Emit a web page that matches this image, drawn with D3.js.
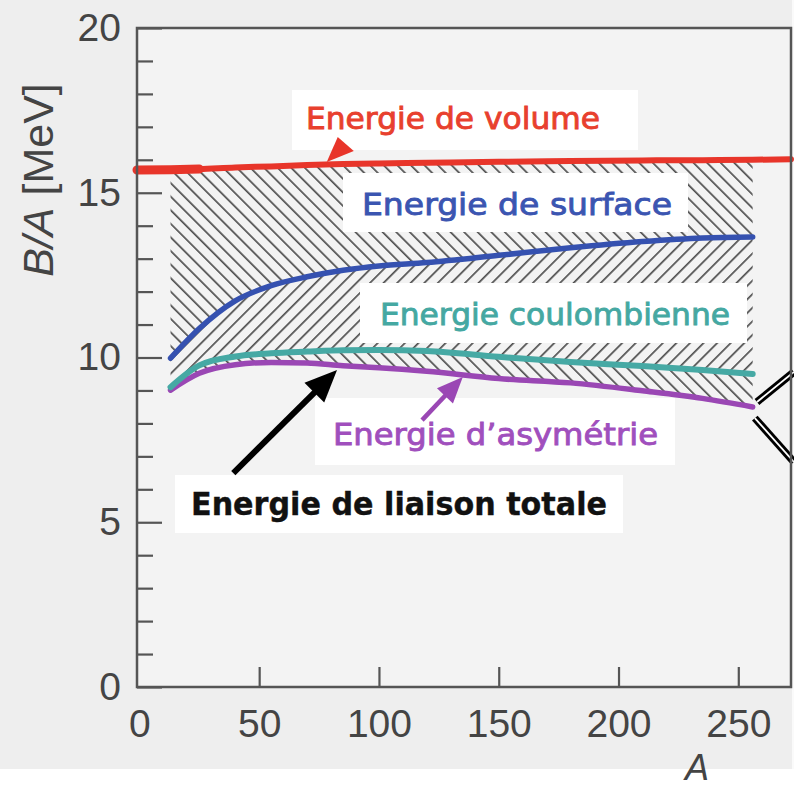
<!DOCTYPE html>
<html>
<head>
<meta charset="utf-8">
<script src="https://cdn.jsdelivr.net/npm/d3@7"></script>
<style>
    html, body { margin: 0; padding: 0; background: #efefef; }
    #chart svg { display: block; }
</style>
</head>
<body>
<div id="chart"></div>
<script>
'use strict'

////////////////////////////////////
/////////////// data ///////////////
////////////////////////////////////

const massNumbers = [13, 25, 40, 55, 70, 85, 100, 120, 150, 180, 210, 235, 256]

// B/A in MeV, cumulative after each term
const volumeEnergy = [15.7, 15.72, 15.77, 15.8, 15.84, 15.87, 15.89, 15.91, 15.94, 15.96, 15.98, 15.99, 16.0]
const surfaceEnergy = [9.98, 10.88, 11.72, 12.18, 12.45, 12.65, 12.78, 12.88, 13.1, 13.33, 13.52, 13.63, 13.66]
const coulombEnergy = [9.1, 9.76, 10.03, 10.13, 10.18, 10.22, 10.23, 10.2, 10.02, 9.86, 9.74, 9.62, 9.5]
const asymmetryEnergy = [9.01, 9.52, 9.78, 9.85, 9.83, 9.75, 9.69, 9.58, 9.36, 9.23, 8.99, 8.76, 8.5]

// the volume line runs across the whole frame
const volumeEndA = [-1, 272]
const volumeEndB = [15.69, 16.02]

// ticks
const xTicks = [0, 50, 100, 150, 200, 250]
const yTicks = [0, 5, 10, 15, 20]

////////////////////////////////////
//////////// svg setup /////////////
////////////////////////////////////

const svgWidth = 794
const svgHeight = 787
const margin = { left: 137, right: 3, top: 28, bottom: 100 }

const svg = d3.select('#chart')
    .append('svg')
    .attr('width', svgWidth)
    .attr('height', svgHeight)

const x = d3.scaleLinear().domain([-1, 272]).range([margin.left, svgWidth - margin.right])
const y = d3.scaleLinear().domain([0, 20]).range([svgHeight - margin.bottom, margin.top])

const axisFont = '"Liberation Sans", Arial, sans-serif'
const labelFont = '"DejaVu Sans", Verdana, sans-serif'

// page background, white scan edges
svg.append('rect').attr('width', svgWidth).attr('height', svgHeight).attr('fill', '#eeeeee')
svg.append('rect').attr('x', 0).attr('y', 769).attr('width', svgWidth).attr('height', 18).attr('fill', '#ffffff')
svg.append('rect').attr('x', 792).attr('y', 0).attr('width', 2).attr('height', 769).attr('fill', '#fafafa')

// plot area
svg.append('rect')
    .attr('x', x.range()[0]).attr('y', y.range()[1])
    .attr('width', x.range()[1] - x.range()[0])
    .attr('height', y.range()[0] - y.range()[1])
    .attr('fill', '#f3f3f3')

////////////////////////////////////
///////////// hatching /////////////
////////////////////////////////////

const defs = svg.append('defs')

function hatch(id, angle) {
    const p = defs.append('pattern')
        .attr('id', id)
        .attr('patternUnits', 'userSpaceOnUse')
        .attr('width', 9.6)
        .attr('height', 9.6)
        .attr('patternTransform', `rotate(${angle})`)
    p.append('rect').attr('width', 1.7).attr('height', 9.6).attr('fill', '#505050')
}
hatch('hatchBack', -45)  // "\\\"
hatch('hatchFwd', 45)    // "///"

const rows = massNumbers.map((a, i) => ({
    a: a,
    vol: volumeEnergy[i],
    surf: surfaceEnergy[i],
    coul: coulombEnergy[i],
    asym: asymmetryEnergy[i]
}))

const band = (top, bottom) => d3.area()
    .x(d => x(d.a))
    .y0(d => y(d[bottom]))
    .y1(d => y(d[top]))
    .curve(d3.curveMonotoneX)

const bands = [
    { top: 'vol', bottom: 'surf', fill: 'url(#hatchBack)' },
    { top: 'surf', bottom: 'coul', fill: 'url(#hatchFwd)' },
    { top: 'coul', bottom: 'asym', fill: 'url(#hatchBack)' }
]

svg.append('g')
    .selectAll('path')
    .data(bands)
    .join('path')
    .attr('d', b => band(b.top, b.bottom)(rows))
    .attr('fill', b => b.fill)

////////////////////////////////////
/////////// label boxes ////////////
////////////////////////////////////

const labels = [
    { text: 'Energie de volume', color: '#e8402e', box: [292, 90, 346, 60], tx: 306, ty: 129, tw: 294, weight: 'normal' },
    { text: 'Energie de surface', color: '#3b55b1', box: [343, 173, 345, 59], tx: 362, ty: 215, tw: 310, weight: 'normal' },
    { text: 'Energie coulombienne', color: '#45a8a2', box: [360, 283, 387, 60], tx: 380, ty: 325, tw: 350, weight: 'normal' },
    { text: 'Energie d\u2019asymétrie', color: '#a04fbd', box: [315, 398, 360, 67], tx: 333, ty: 445, tw: 325, weight: 'normal' },
    { text: 'Energie de liaison totale', color: '#111111', box: [175, 475, 448, 58], tx: 191, ty: 515, tw: 416, weight: 'bold' }
]

svg.append('g')
    .selectAll('rect')
    .data(labels)
    .join('rect')
    .attr('x', d => d.box[0])
    .attr('y', d => d.box[1])
    .attr('width', d => d.box[2])
    .attr('height', d => d.box[3])
    .attr('fill', '#ffffff')

////////////////////////////////////
////////////// curves //////////////
////////////////////////////////////

const line = key => d3.line()
    .x(d => x(d.a))
    .y(d => y(d[key]))
    .curve(d3.curveMonotoneX)

const volumeRows = [{ a: volumeEndA[0], vol: volumeEndB[0] }]
    .concat(rows)
    .concat([{ a: volumeEndA[1], vol: volumeEndB[1] }])

const curves = [
    { key: 'asym', color: '#9a47b4', width: 5.5, data: rows },
    { key: 'coul', color: '#46a9a4', width: 6, data: rows },
    { key: 'surf', color: '#3551b0', width: 5.5, data: rows },
    { key: 'vol', color: '#e8352a', width: 6, data: volumeRows },
    // the scan shows a heavier stroke on the first part of the volume line
    { key: 'vol', color: '#e8352a', width: 9, data: volumeRows.filter(d => d.a <= 25) }
]

svg.append('g')
    .selectAll('path')
    .data(curves)
    .join('path')
    .attr('d', c => line(c.key)(c.data))
    .attr('fill', 'none')
    .attr('stroke', c => c.color)
    .attr('stroke-width', c => c.width)
    .attr('stroke-linecap', 'round')

////////////////////////////////////
///////////// arrows ///////////////
////////////////////////////////////

// tail and tip in data units (A, B/A)
const arrows = [
    { from: [39.2, 6.49], to: [82.5, 9.62], color: '#000000', width: 6, head: 32, half: 14 },
    { from: [118, 8.1], to: [135, 9.41], color: '#9a47b4', width: 4.5, head: 26, half: 11 }
]

const arrowG = svg.append('g')
arrows.forEach(ar => {
    const x0 = x(ar.from[0]), y0 = y(ar.from[1])
    const x1 = x(ar.to[0]), y1 = y(ar.to[1])
    const len = Math.hypot(x1 - x0, y1 - y0)
    const ux = (x1 - x0) / len, uy = (y1 - y0) / len
    const bx = x1 - ux * ar.head, by = y1 - uy * ar.head
    arrowG.append('line')
        .attr('x1', x0).attr('y1', y0)
        .attr('x2', bx + ux * 4).attr('y2', by + uy * 4)
        .attr('stroke', ar.color)
        .attr('stroke-width', ar.width)
    arrowG.append('polygon')
        .attr('points', [
            [x1, y1],
            [bx - uy * ar.half, by + ux * ar.half],
            [bx + uy * ar.half, by - ux * ar.half]
        ].map(p => p.join(',')).join(' '))
        .attr('fill', ar.color)
})

// small red arrowhead sitting on the volume line
const redHead = [[78.2, 15.93], [82.8, 16.69], [89.5, 16.27]]
arrowG.append('polygon')
    .attr('points', redHead.map(p => [x(p[0]), y(p[1])].join(',')).join(' '))
    .attr('fill', '#e8352a')

// double-stroked bracket on the right edge
const bracket = [
    [[273.2, 9.56], [257.8, 8.65]],
    [[256.9, 8.16], [273.2, 6.83]]
]
const bracketLine = d3.line().x(p => x(p[0])).y(p => y(p[1]))
arrowG.selectAll('.bracketOuter')
    .data(bracket)
    .join('path')
    .attr('class', 'bracketOuter')
    .attr('d', bracketLine)
    .attr('stroke', '#000')
    .attr('stroke-width', 7.5)
arrowG.selectAll('.bracketInner')
    .data(bracket)
    .join('path')
    .attr('class', 'bracketInner')
    .attr('d', bracketLine)
    .attr('stroke', '#fff')
    .attr('stroke-width', 1.8)

////////////////////////////////////
////////////// labels //////////////
////////////////////////////////////

svg.append('g')
    .selectAll('text')
    .data(labels)
    .join('text')
    .attr('x', d => d.tx)
    .attr('y', d => d.ty)
    .attr('textLength', d => d.tw)
    .attr('lengthAdjust', 'spacingAndGlyphs')
    .attr('font-family', labelFont)
    .attr('font-size', d => d.weight === 'bold' ? 32 : 31)
    .attr('font-weight', d => d.weight)
    .attr('fill', d => d.color)
    .attr('stroke', d => d.color)
    .attr('stroke-width', d => d.weight === 'bold' ? 0.4 : 0.9)
    .text(d => d.text)

////////////////////////////////////
/////////////// axes ///////////////
////////////////////////////////////

// frame
svg.append('rect')
    .attr('x', x.range()[0]).attr('y', y.range()[1])
    .attr('width', x.range()[1] - x.range()[0])
    .attr('height', y.range()[0] - y.range()[1])
    .attr('fill', 'none')
    .attr('stroke', '#555')
    .attr('stroke-width', 2.5)

const yAxis = svg.append('g')
    .attr('transform', `translate(${margin.left},0)`)
    .call(d3.axisLeft(y).tickValues(yTicks).tickSizeInner(-25).tickSizeOuter(0).tickPadding(16))

const yMinor = svg.append('g')
    .attr('transform', `translate(${margin.left},0)`)
    .call(d3.axisLeft(y).tickValues(d3.range(1, 20).filter(v => v % 5)).tickSizeInner(-16).tickSizeOuter(0).tickFormat(''))

const xAxis = svg.append('g')
    .attr('transform', `translate(0,${y(0)})`)
    .call(d3.axisBottom(x).tickValues(xTicks).tickSizeInner(-20).tickSizeOuter(0).tickPadding(22))

xAxis.selectAll('.tick').filter(d => d === 0).select('line').remove()

;[yAxis, yMinor, xAxis].forEach(g => {
    g.select('.domain').remove()
    g.selectAll('line').attr('stroke', '#555').attr('stroke-width', 2.2)
    g.selectAll('text')
        .attr('font-family', axisFont)
        .attr('font-size', 39)
        .attr('fill', '#444')
})

// axis titles
const yTitle = svg.append('text')
    .attr('transform', 'translate(53,180) rotate(-90)')
    .attr('text-anchor', 'middle')
    .attr('font-family', axisFont)
    .attr('font-size', 43)
    .attr('fill', '#444')
yTitle.append('tspan').attr('font-style', 'italic').text('B/A')
yTitle.append('tspan').text(' [MeV]')

svg.append('text')
    .attr('x', 697)
    .attr('y', 780)
    .attr('text-anchor', 'middle')
    .attr('font-family', axisFont)
    .attr('font-style', 'italic')
    .attr('font-size', 36)
    .attr('fill', '#444')
    .text('A')
</script>
</body>
</html>
